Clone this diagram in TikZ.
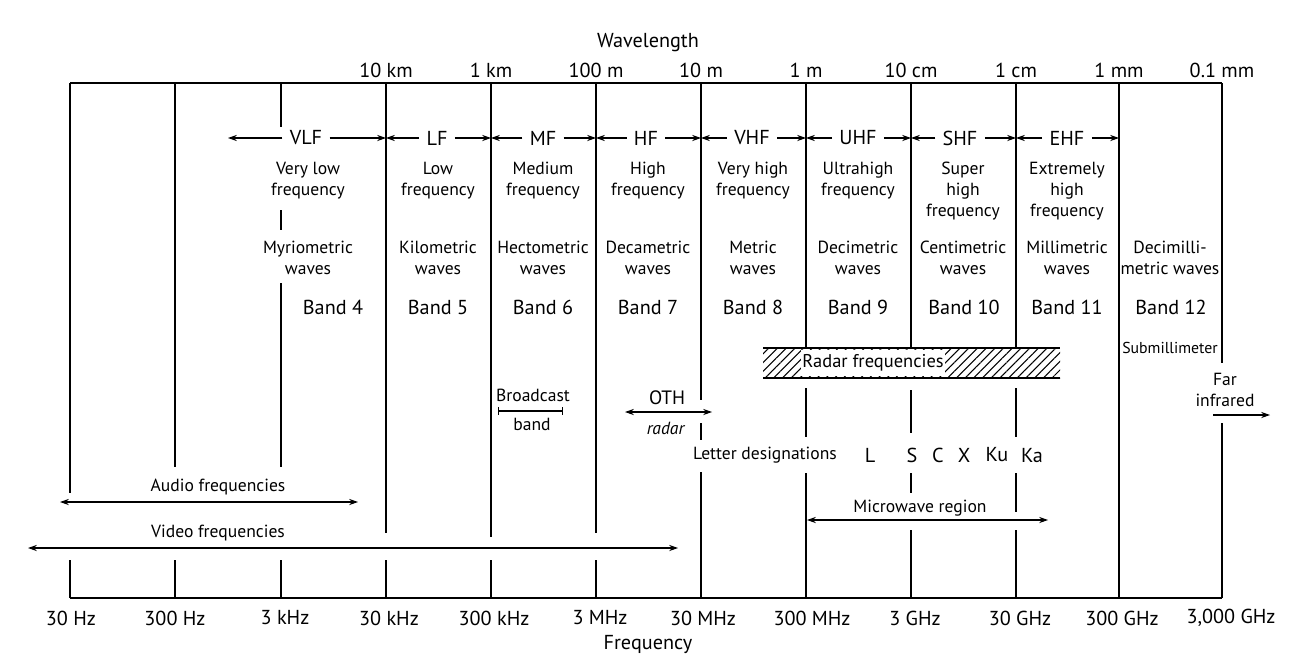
\documentclass[tikz,border=0pt]{standalone}
\usepackage{fontspec}
\setmainfont{PT Sans}
\usetikzlibrary{arrows.meta,patterns.meta}

\begin{document}
\begin{tikzpicture}[x=0.02cm, y=-0.02cm, >={Stealth[length=5pt,width=3.5pt]},
    grid/.style={line width=1pt},
    arr/.style={line width=0.6pt},
    lbl/.style={font=\fontsize{10}{12}\selectfont, align=center, inner sep=1pt},
    scalelbl/.style={font=\fontsize{11.5}{13}\selectfont, inner sep=1pt},
    bandlbl/.style={font=\fontsize{11.5}{13}\selectfont, inner sep=1pt}]
\useasboundingbox (0,0) rectangle (1290,656);

% frame and decade lines
\draw[grid] (70,83) -- (1222,83);
\draw[grid] (70,598) -- (1222,598);
\foreach \x/\a/\b in {70/83/493, 70/560/598, 175/83/467, 175/560/598,
    281/83/127, 281/210/230, 281/283/467, 281/560/598,
    386/83/533, 386/560/598, 491/83/537, 491/560/598, 596/83/533, 596/560/598,
    701/83/400, 701/423/440, 701/472/598,
    806/83/347, 806/388/437, 806/473/598,
    911/83/347, 911/390/433, 911/473/493, 911/530/598,
    1016/83/347, 1016/388/437, 1016/473/512, 1016/530/598,
    1119/83/598, 1222/83/363, 1222/423/598}
  \draw[grid] (\x,\a) -- (\x,\b);

% scales
\node[scalelbl] (wl) at (648,43) {Wavelength};
\node[scalelbl] (fq) at (648,644) {Frequency};
\foreach \i/\x/\w in {4/386/10 km, 5/491/1 km, 6/596/100 m, 7/701/10 m, 8/806/1 m,
    9/911/10 cm, 10/1016/1 cm, 11/1119/1 mm, 12/1222/0.1 mm}
  \node[scalelbl] (w\i) at (\x,70) {\w};
\foreach \i/\x/\f in {1/71/30 Hz, 2/175/300 Hz, 3/285/3 kHz, 4/389/30 kHz, 5/494/300 kHz,
    6/600/3 MHz, 7/703/30 MHz, 8/812/300 MHz, 9/915/3 GHz, 10/1020/30 GHz,
    11/1122/300 GHz, 12/1231/{3,000 GHz}}
  \node[scalelbl] (f\i) at (\x,618) {\f};

% band names with arrows
\foreach \n/\c/\l/\r in {VLF/306/228/386, LF/437/386/491, MF/543/491/596, HF/646/596/701,
    VHF/752/701/806, UHF/858/806/911, SHF/960/911/1016, EHF/1067/1016/1119} {
  \node[bandlbl, inner sep=4pt] (\n) at (\c,138) {\n};
  \coordinate (\n l) at (\l,138);
  \coordinate (\n r) at (\r,138);
  \draw[arr,->] (\n) -- (\n l);
  \draw[arr,->] (\n) -- (\n r);
}

% band descriptions
\foreach \c/\t [count=\i] in {308/{Very low\\frequency}, 438/{Low\\frequency},
    543/{Medium\\frequency}, 648/{High\\frequency}, 753/{Very high\\frequency},
    858/{Ultrahigh\\frequency}, 963/{Super\\high\\frequency},
    1067/{Extremely\\high\\frequency}}
  \node[lbl, anchor=north] (d\i) at (\c,160) {\t};
\foreach \c/\t [count=\i] in {308/{Myriometric\\waves}, 438/{Kilometric\\waves},
    543/{Hectometric\\waves}, 648/{Decametric\\waves}, 753/{Metric\\waves},
    858/{Decimetric\\waves}, 963/{Centimetric\\waves}, 1067/{Millimetric\\waves},
    1170/{Decimilli-\\metric waves}}
  \node[lbl, anchor=north] (m\i) at (\c,239) {\t};
\foreach \c/\k in {333/4, 438/5, 543/6, 648/7, 753/8, 858/9, 964/10, 1067/11, 1171/12}
  \node[bandlbl] (band\k) at (\c,307) {Band \k};
\node[lbl, font=\fontsize{9}{11}\selectfont] (submm) at (1170,348) {Submillimeter};

% radar frequencies
\fill[pattern={Lines[angle=45,distance=3.5pt,line width=0.6pt]}] (763,348) rectangle (1060,378);
\draw[grid] (763,348) -- (1060,348);
\draw[grid] (763,378) -- (1060,378);
\node[lbl, font=\fontsize{10.5}{12}\selectfont, fill=white, minimum height=15pt] (radar) at (873,363) {Radar frequencies};

% broadcast band
\node[lbl] (bcast) at (533,395) {Broadcast};
\node[lbl] (bband) at (532,424) {band};
\coordinate (bbl) at (498,411);
\coordinate (bbr) at (563,411);
\draw[arr,{Bar[width=4pt]}-{Bar[width=4pt]}] (bbl) -- (bbr);

% OTH radar
\node[lbl, font=\fontsize{11}{13}\selectfont] (oth) at (667,398) {OTH};
\node[lbl] (othr) at (666,428) {\textit{radar}};
\coordinate (othl) at (625,412);
\coordinate (othrt) at (712,412);
\draw[arr,<->] (othl) -- (othrt);

% letter designations
\node[lbl] (letters) at (765,455) {Letter designations};
\foreach \x/\t in {870/L, 912/S, 938/C, 964/X, 997/Ku, 1032/Ka}
  \node[bandlbl] (ld\t) at (\x,455) {\t};

% microwave region
\node[lbl] (micro) at (920,508) {Microwave region};
\coordinate (mwl) at (807,520);
\coordinate (mwr) at (1048,520);
\draw[arr,<->] (mwl) -- (mwr);

% far infrared
\node[lbl] (fir) at (1225,390) {Far\\infrared};
\coordinate (firl) at (1213,415);
\coordinate (firr) at (1270,415);
\draw[arr,->] (firl) -- (firr);

% audio and video
\node[lbl] (audio) at (218,487) {Audio frequencies};
\coordinate (audl) at (60,502);
\coordinate (audr) at (358,502);
\draw[arr,<->] (audl) -- (audr);
\node[lbl] (video) at (218,533) {Video frequencies};
\coordinate (vidl) at (28,548);
\coordinate (vidr) at (678,548);
\draw[arr,<->] (vidl) -- (vidr);
\end{tikzpicture}
\end{document}
